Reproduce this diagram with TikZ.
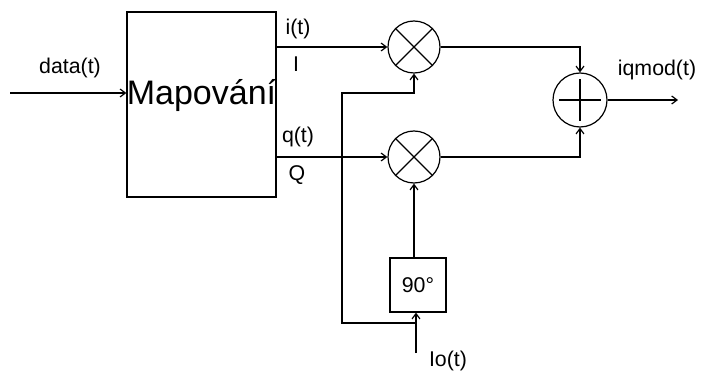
\documentclass[tikz,border=0pt]{standalone}
\usepackage{fontspec}
\setmainfont{Liberation Sans}
\usetikzlibrary{arrows.meta,positioning,calc}

\begin{document}
\begin{tikzpicture}[x=0.75pt, y=-0.75pt, line width=0.9pt,
  mapbox/.style={rectangle, draw, minimum width=111.75pt, minimum height=138.75pt, inner sep=0pt},
  phasebox/.style={rectangle, draw, minimum width=42pt, minimum height=40.5pt, inner sep=0pt, font=\fontsize{16}{19}\selectfont},
  mixer/.style={circle, draw, minimum size=39pt, inner sep=0pt},
  adder/.style={circle, draw, minimum size=40.5pt, inner sep=0pt},
  lbl/.style={font=\fontsize{16}{19}\selectfont, inner sep=0pt},
  line/.style={draw, -{Straight Barb[length=4pt, width=6pt]}}]

  \useasboundingbox (0,0) rectangle (704,374);

  \node [mapbox] (map) at (201.5,104.5) {};
  \node [font=\fontsize{25.5}{30}\selectfont, inner sep=0pt] (maptext) at (201.5,96) {Mapování};
  \node [mixer] (mixI) at (414,47) {};
  \node [mixer] (mixQ) at (414,157) {};
  \node [adder] (sum) at (580,100) {};
  \node [phasebox] (shift) at (418,285) {90°};

  % symbols inside the circles
  \draw (mixI.45) -- (mixI.225) (mixI.135) -- (mixI.315);
  \draw (mixQ.45) -- (mixQ.225) (mixQ.135) -- (mixQ.315);
  \draw [shorten <=5.25pt, shorten >=5.25pt] (sum.west) -- (sum.east);
  \draw [shorten <=5.25pt, shorten >=5.25pt] (sum.north) -- (sum.south);

  \coordinate (din) at (10,93);
  \coordinate (sout) at (678,100);
  \coordinate (io) at (416,353);
  \coordinate (tap) at (416,323);
  \coordinate (loopT) at (342,93);

  \path [line] (din) -- (din -| map.west);
  \path [line] (map.east |- mixI) -- (mixI.west);
  \path [line] (map.east |- mixQ) -- (mixQ.west);
  \path [line] (mixI.east) -| (sum.north);
  \path [line] (mixQ.east) -| (sum.south);
  \path [line] (sum.east) -- (sout);
  \path [line] (mixQ.south |- shift.north) -- (mixQ.south);
  \path [line] (io) -- (io |- shift.south);
  \path [line] (tap) -| (loopT) -| (mixI.south);

  \node [lbl] (lbldata) at (70,68) {data(t)};
  \node [lbl] (lbli) at (298,29) {i(t)};
  \node [lbl] (lblI) at (296,64) {I};
  \node [lbl] (lblq) at (298,137) {q(t)};
  \node [lbl] (lblQ) at (297,175) {Q};
  \node [lbl] (lbliq) at (657,70) {iqmod(t)};
  \node [lbl] (lblio) at (448,361) {Io(t)};
\end{tikzpicture}
\end{document}
